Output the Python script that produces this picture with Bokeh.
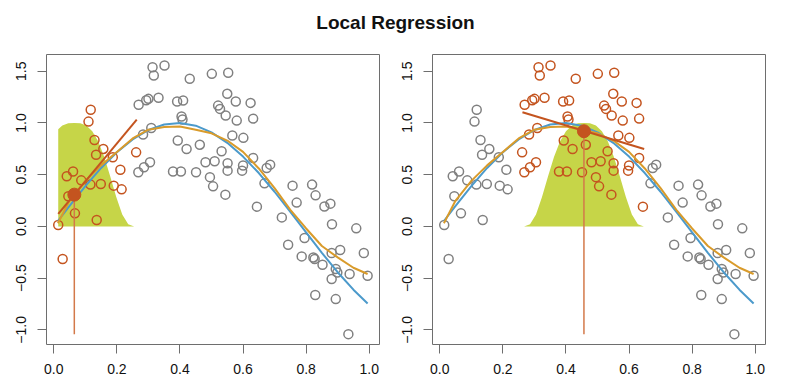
from bokeh.plotting import figure
from bokeh.layouts import column, row
from bokeh.models import Range1d, FixedTicker, CustomJSTickFormatter
from bokeh.core.properties import value
from bokeh.embed import file_html
from bokeh.resources import INLINE
import numpy as np

# ---------------- data ----------------
x_data = [0.014, 0.028, 0.041, 0.046, 0.061, 0.067, 0.087, 0.110, 0.117, 0.116,
          0.129, 0.134, 0.136, 0.149, 0.157, 0.187, 0.190, 0.211, 0.215, 0.261,
          0.268, 0.286, 0.305, 0.283, 0.309, 0.269, 0.293, 0.300, 0.332, 0.313,
          0.317, 0.351, 0.431, 0.391, 0.410, 0.405, 0.408, 0.393, 0.421, 0.463,
          0.378, 0.403, 0.451, 0.495, 0.481, 0.501, 0.553, 0.550, 0.577, 0.624,
          0.521, 0.527, 0.545, 0.580, 0.632, 0.566, 0.601, 0.532, 0.632, 0.510,
          0.551, 0.551, 0.600, 0.597, 0.505, 0.544, 0.644,
          0.686, 0.675, 0.668, 0.757, 0.819, 0.830, 0.770, 0.877, 0.858, 0.723,
          0.882, 0.959, 0.743, 0.795, 0.786, 0.823, 0.827, 0.852, 0.881, 0.908,
          0.983, 0.894, 0.899, 0.938, 0.995, 0.881, 0.829, 0.894, 0.934]
y_data = [0.013, -0.316, 0.484, 0.292, 0.531, 0.126, 0.445, 1.013, 1.127, 0.404,
          0.836, 0.692, 0.062, 0.410, 0.749, 0.668, 0.394, 0.547, 0.358, 0.716,
          0.523, 0.571, 0.620, 0.888, 0.952, 1.176, 1.220, 1.233, 1.243, 1.539,
          1.459, 1.556, 1.427, 1.207, 1.217, 1.062, 1.033, 0.830, 0.749, 0.790,
          0.530, 0.530, 0.523, 0.476, 0.620, 1.475, 1.485, 1.282, 1.207, 1.194,
          1.168, 1.136, 1.072, 1.023, 1.042, 0.878, 0.856, 0.726, 0.662, 0.629,
          0.610, 0.539, 0.588, 0.539, 0.387, 0.307, 0.191,
          0.597, 0.565, 0.416, 0.394, 0.404, 0.300, 0.230, 0.220, 0.192, 0.087,
          0.020, -0.019, -0.177, -0.112, -0.290, -0.300, -0.316, -0.371, -0.258, -0.228,
          -0.258, -0.412, -0.445, -0.461, -0.477, -0.509, -0.664, -0.703, -1.042]

curve_x = [0.013, 0.05, 0.10, 0.15, 0.20, 0.25, 0.30, 0.35, 0.40, 0.45, 0.50,
           0.55, 0.60, 0.65, 0.70, 0.75, 0.80, 0.85, 0.90, 0.95, 0.995]
true_y = [0.052, 0.199, 0.389, 0.565, 0.717, 0.841, 0.932, 0.985, 1.000, 0.974, 0.909,
          0.808, 0.675, 0.516, 0.335, 0.141, -0.058, -0.256, -0.443, -0.612, -0.745]
loess_y = [0.03, 0.25, 0.44, 0.59, 0.72, 0.85, 0.935, 0.96, 0.965, 0.935, 0.90,
           0.83, 0.72, 0.56, 0.37, 0.16, -0.02, -0.19, -0.30, -0.40, -0.46]

# tricube kernel profile (relative offset, weight)
kernel_u = [-1.0, -0.9, -0.8, -0.7, -0.6, -0.5, -0.4, -0.3, -0.2, -0.1, 0.0,
            0.1, 0.2, 0.3, 0.4, 0.5, 0.6, 0.7, 0.8, 0.9, 1.0]
kernel_w = [0.0, 0.020, 0.116, 0.284, 0.482, 0.670, 0.820, 0.921, 0.976, 0.997, 1.0,
            0.997, 0.976, 0.921, 0.820, 0.670, 0.482, 0.284, 0.116, 0.020, 0.0]

fit_x = [0.065, 0.457]
fit_y = [0.307, 0.920]
kernel_h = [0.19, 0.19]
window_lo = [0.0, 0.26]
window_hi = [0.262, 0.65]
local_x0 = [0.014, 0.262]
local_y0 = [0.12, 1.104]
local_x1 = [0.263, 0.648]
local_y1 = [1.033, 0.749]

title_text = "Local Regression"
x_ticks = [0.0, 0.2, 0.4, 0.6, 0.8, 1.0]
y_ticks = [-1.0, -0.5, 0.0, 0.5, 1.0, 1.5]

# ---------------- style ----------------
GRAY = "#808080"
ORANGE_PT = "#C4541F"
VLINE = "#D3794A"
BLUE = "#4C9ACB"
GOLD = "#D99B2B"
GREEN = "#C6D548"
FRAME = "#6e6e6e"
FONT = "Liberation Sans"

fmt = CustomJSTickFormatter(code="return tick.toFixed(1).replace('-', '\\u2212');")


def panel(i, mbl, mbr):
    p = figure(frame_width=333, frame_height=290, output_backend="svg",
               toolbar_location=None, x_range=Range1d(-0.0232, 1.0327),
               y_range=Range1d(-1.142, 1.662), min_border_left=mbl,
               min_border_right=mbr, min_border_top=8, min_border_bottom=42)
    p.grid.visible = False
    p.outline_line_color = FRAME
    p.outline_line_width = 1
    p.background_fill_color = "white"
    p.border_fill_color = "white"
    for ax in (p.xaxis[0], p.yaxis[0]):
        ax.axis_line_color = None
        ax.major_tick_line_color = FRAME
        ax.major_tick_out = 9
        ax.major_tick_in = 0
        ax.minor_tick_line_color = None
        ax.major_label_text_font = FONT
        ax.major_label_text_font_size = "14px"
        ax.major_label_text_color = "#111111"
        ax.formatter = fmt
    p.xaxis.ticker = FixedTicker(ticks=x_ticks)
    p.yaxis.ticker = FixedTicker(ticks=y_ticks)
    p.xaxis.major_label_standoff = 10
    p.yaxis.major_label_standoff = 11
    p.yaxis.major_label_orientation = "vertical"

    xs = np.array(x_data)
    ys = np.array(y_data)
    # kernel shape, clipped to the data range
    kx = np.array([fit_x[i] + u * kernel_h[i] for u in kernel_u])
    kw = np.array(kernel_w)
    xmin = xs.min()
    keep = kx >= xmin
    px = list(kx[keep])
    pw = list(kw[keep])
    if not keep.all():
        px = [xmin] + px
        pw = [float(np.interp(xmin, kx, kw))] + pw
    p.patch(px + [px[-1], px[0]], pw + [0.0, 0.0], fill_color=GREEN,
            line_color=None)

    inside = (xs >= window_lo[i]) & (xs <= window_hi[i])
    p.scatter(xs[~inside], ys[~inside], marker="circle", size=9,
              fill_color=None, line_color=GRAY, line_width=1.5)
    p.scatter(xs[inside], ys[inside], marker="circle", size=9,
              fill_color=None, line_color=ORANGE_PT, line_width=1.5)

    p.line(curve_x, true_y, line_color=BLUE, line_width=2)
    p.line(curve_x, loess_y, line_color=GOLD, line_width=2)

    p.segment(x0=[fit_x[i]], y0=[ys.min()], x1=[fit_x[i]], y1=[fit_y[i]],
              line_color=VLINE, line_width=1.5)
    p.segment(x0=[local_x0[i]], y0=[local_y0[i]], x1=[local_x1[i]],
              y1=[local_y1[i]], line_color=ORANGE_PT, line_width=2)
    p.scatter([fit_x[i]], [fit_y[i]], marker="circle", size=13,
              fill_color=ORANGE_PT, line_color=ORANGE_PT)
    return p


p1 = panel(0, 46, 16)
p2 = panel(1, 37, 10)

t = figure(width=774, height=46, output_backend="svg", toolbar_location=None,
           x_range=Range1d(0, 774), y_range=Range1d(0, 46), min_border=0,
           x_axis_type=None, y_axis_type=None)
t.grid.visible = False
t.outline_line_color = None
t.text(x=[395], y=[24], text=[title_text], text_font=value(FONT),
       text_font_style="bold", text_font_size=value("19px"),
       text_align="center", text_baseline="alphabetic", text_color="#111111")

layout = column(t, row(p1, p2))
open("out.html", "w").write(file_html(layout, INLINE))
